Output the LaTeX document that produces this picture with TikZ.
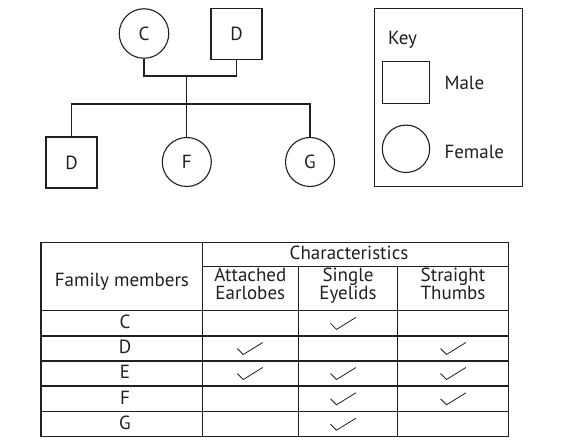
\documentclass[tikz,border=0pt]{standalone}
\usepackage{fontspec}
\setmainfont{PT Sans}
\definecolor{ink}{HTML}{231F20}
\begin{document}
\begin{tikzpicture}[x=1pt,y=-1pt,
  every node/.style={font=\fontsize{19}{16.7}\selectfont, text=ink},
  lab/.style={inner sep=0pt, anchor=base},
  hdr/.style={lab, align=center, font=\fontsize{19}{17.6}\selectfont},
  fem/.style={circle, draw=ink, line width=1.1pt, inner sep=0pt},
  mal/.style={rectangle, draw=ink, line width=1.1pt, inner sep=0pt},
  link/.style={draw=ink, line width=1.1pt},
  grid/.style={draw=ink, line width=1.5pt},
  chk/.style={draw=ink, line width=0.8pt}]
\useasboundingbox (0,0) rectangle (562,446);
\fill[white] (0,0) rectangle (562,446);

% pedigree
\node[fem, minimum size=49.5pt] (C) at (144,33.5) {C};
\node[mal, minimum size=51pt] (Dt) at (236.5,33.8) {D};
\node[mal, minimum size=51pt] (Dc) at (71.5,162.5) {D};
\node[fem, minimum size=49pt] (F) at (186.8,162) {F};
\node[fem, minimum size=49pt] (G) at (310,162) {G};
\coordinate (m1) at (186.8,76);
\coordinate (m2) at (186.8,104);
\draw[link] (C.south) |- (m1) -| (Dt.south);
\draw[link] (m1) -- (m2);
\draw[link] (Dc.north) |- (m2) -| (G.north);
\draw[link] (m2) -- (F.north);

% key
\node[rectangle, draw=ink, line width=1.3pt, minimum width=147.6pt, minimum height=178.4pt] (key) at (448.5,97.5) {};
\node[lab, anchor=base west] (keyt) at (388,44.3) {Key};
\node[mal, minimum width=47pt, minimum height=42pt] (km) at (405.8,82.8) {};
\node[fem, minimum size=47.4pt] (kf) at (406,148.8) {};
\node[lab, anchor=west] (kml) at (444.3,83.3) {Male};
\node[lab, anchor=west] (kfl) at (444.3,151.7) {Female};

% table
\draw[grid] (41,242.3) rectangle (508.3,436.7);
\draw[grid] (202.7,242.3) -- (202.7,436.7);
\draw[grid] (298.3,266.7) -- (298.3,436.7);
\draw[grid] (397.7,266.7) -- (397.7,436.7);
\draw[grid] (202.7,266.7) -- (508.3,266.7);
\foreach \yy in {310.7,336,361,386,411.7} \draw[grid] (41,\yy) -- (508.3,\yy);

\node[lab] (fm) at (121.9,286.7) {Family members};
\node[lab] (ch) at (349,260) {Characteristics};
\node[hdr] (att) at (250.3,299) {Attached\\Earlobes};
\node[hdr] (sgl) at (348,299) {Single\\Eyelids};
\node[hdr] (str) at (453,299) {Straight\\Thumbs};

\node[lab] (rC) at (125,328.3) {C};
\node[lab] (rD) at (125,353.3) {D};
\node[lab] (rE) at (125,378.3) {E};
\node[lab] (rF) at (125,404) {F};
\node[lab] (rG) at (125,429) {G};

% checks: Attached x=250, Single x=343.2, Straight x=453.2
\foreach \cx/\cy in {343.2/323.4, 250/348.5, 453.2/348.5, 250/373.5, 343.2/373.5, 453.2/373.5, 343.2/398.8, 453.2/398.8, 343.2/424.2}
  \draw[chk] (\cx-12.7,\cy) -- (\cx-6.7,\cy+6) -- (\cx+12.7,\cy-6);
\end{tikzpicture}
\end{document}
